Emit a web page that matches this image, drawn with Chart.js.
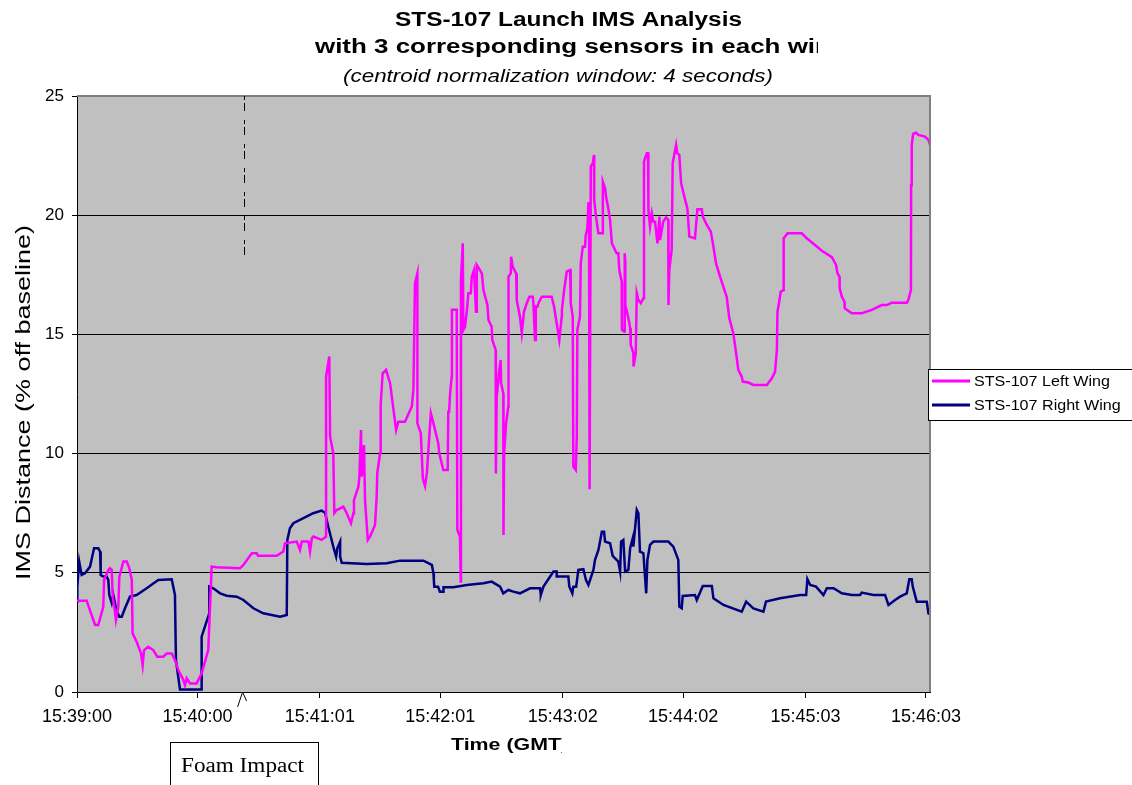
<!DOCTYPE html>
<html>
<head>
<meta charset="utf-8">
<script src="https://cdn.jsdelivr.net/npm/chart.js@4.4.1/dist/chart.umd.min.js"></script>
<style>
  html, body { margin: 0; padding: 0; background: #fff; }
  canvas { display: block; }
</style>
</head>
<body>
<canvas id="myChart" width="1132" height="785"></canvas>
<script>
// seconds after 15:39:00
const tickTimes = [0, 60, 121, 181, 242, 302, 363, 423];
const tickLabels = ["15:39:00", "15:40:00", "15:41:01", "15:42:01", "15:43:02", "15:44:02", "15:45:03", "15:46:03"];
const yTicks = [0, 5, 10, 15, 20, 25];
const impactTime = 83;

const leftT = [0,4.8,9.0,10.6,13.1,13.5,15.6,16.4,17.3,17.8,
  18.9,19.4,20.6,21.1,23.1,24.8,26.1,27.3,27.7,29.7,
  31.9,32.7,33.4,35.5,38.0,40.0,43.0,44.7,47.2,48.8,
  50.5,53.0,53.8,54.7,56.3,59.6,62.1,65.4,67.1,69.6,
  81.2,82.9,87.1,89.5,90.2,99.5,102.8,103.6,109.5,111.1,
  112.0,115.3,116.1,117.0,117.8,121.9,124.1,124.1,125.7,126.1,
  127.7,128.2,129.4,132.7,134.4,136.5,137.7,138.0,140.2,140.7,
  141.5,141.9,143.0,143.5,144.9,146.0,148.5,149.3,149.6,151.0,
  151.3,152.3,154.0,156.0,157.6,159.0,160.1,163.4,166.8,167.6,
  168.4,169.6,169.6,171.3,172.3,173.4,174.3,176.3,177.6,180.0,
  180.5,182.5,184.7,185.0,185.4,185.9,186.7,186.8,189.2,189.5,
  190.8,191.2,191.3,192.2,192.5,193.3,194.2,195.0,196.2,196.7,
  197.8,198.8,199.2,200.8,201.7,202.5,204.5,205.0,206.6,206.9,
  208.6,208.7,209.1,210.4,211.1,211.3,212.4,212.5,212.8,213.8,
  214.9,215.0,216.1,216.3,217.1,218.8,219.1,220.7,221.6,222.7,
  224.1,225.4,227.1,227.4,228.2,228.6,229.4,229.9,231.6,236.5,
  237.7,239.0,240.3,241.5,241.6,242.7,244.0,245.7,246.0,247.0,
  247.3,248.5,249.0,249.3,250.6,251.0,252.0,253.1,253.5,254.3,
  254.8,255.1,255.4,256.0,257.0,257.6,257.7,258.6,259.3,259.8,
  261.8,262.0,263.1,263.6,264.7,265.6,266.5,268.9,269.7,270.2,
  271.4,271.5,272.6,272.9,273.1,273.2,274.2,275.2,275.6,275.9,
  277.2,277.3,278.4,278.9,279.7,280.9,282.2,282.5,283.9,284.5,
  284.7,285.5,286.4,287.2,288.0,289.2,290.2,290.5,292.1,293.5,
  294.6,294.7,295.1,296.3,296.8,298.5,299.1,300.1,301.0,303.0,
  304.1,305.1,307.9,309.1,311.3,311.8,313.8,315.8,317.1,318.4,
  320.4,323.7,325.0,327.0,328.4,329.5,331.2,331.7,334.5,337.0,
  343.7,346.2,347.8,348.7,349.0,350.0,350.6,352.0,352.1,354.0,
  361.1,363.6,367.7,371.1,376.1,378.2,378.9,379.9,380.0,381.1,
  382.4,382.5,386.0,391.0,396.0,401.0,403.5,406.0,413.5,414.3,
  415.5,415.6,415.8,416.0,416.6,418.1,419.2,422.5,424.2,425];
const leftV = [3.83,3.83,2.81,2.81,3.58,4.70,5.12,5.19,5.12,4.00,
  3.37,3.02,3.58,4.84,5.47,5.47,5.19,4.70,2.46,2.11,
  1.62,1.13,1.76,1.90,1.76,1.48,1.48,1.62,1.62,1.34,
  0.92,0.50,0.29,0.57,0.36,0.36,0.78,1.76,5.26,5.23,
  5.19,5.33,5.82,5.82,5.71,5.71,5.89,6.24,6.31,5.96,
  6.31,6.31,5.89,6.45,6.52,6.38,6.52,13.23,14.07,10.71,
  10.01,7.50,7.63,7.77,7.50,7.08,7.50,8.05,8.61,9.03,
  10.99,9.03,10.36,8.05,6.38,6.52,7.01,8.19,9.17,10.01,
  12.04,13.37,13.51,12.95,11.90,10.99,11.34,11.34,11.97,12.67,
  17.14,17.56,11.27,10.85,8.96,8.64,9.17,11.69,11.27,10.43,
  10.01,9.31,9.31,11.76,11.76,12.53,13.23,16.03,16.03,6.80,
  6.51,4.63,17.28,18.82,15.19,15.32,15.95,16.73,16.73,17.42,
  17.70,15.95,17.91,17.70,17.56,16.86,16.23,15.61,15.32,14.77,
  14.35,9.17,12.39,13.51,13.93,12.95,12.53,6.59,10.01,11.27,
  11.97,17.42,17.56,18.26,17.84,17.56,16.44,15.74,15.05,15.95,
  16.31,16.58,16.58,16.31,14.77,16.16,16.16,16.31,16.58,16.58,
  16.16,15.47,14.77,15.74,16.03,16.86,17.63,17.70,16.31,15.74,
  9.45,9.31,10.71,15.19,15.74,17.98,18.68,18.68,19.17,19.45,
  20.50,20.51,8.5,22.04,22.18,22.53,20.64,19.94,19.52,19.24,
  19.24,21.41,21.13,20.78,20.29,19.80,18.82,18.40,18.40,17.70,
  17.21,15.19,15.12,18.40,18.12,16.23,15.89,15.47,15.26,14.56,
  14.21,13.65,14.21,16.73,16.44,16.31,16.52,22.25,22.60,22.60,
  20.22,19.52,20.08,19.73,19.73,18.82,19.94,18.96,19.73,19.91,
  19.80,16.23,17.70,18.54,22.18,22.95,22.60,22.53,21.34,20.64,
  20.29,19.10,19.03,20.25,20.25,19.94,19.59,19.31,18.68,17.98,
  17.42,16.58,15.68,15.05,14.21,13.51,13.23,13.02,12.98,12.88,
  12.88,13.16,13.44,14.35,15.95,16.44,16.79,16.86,19.03,19.24,
  19.24,19.03,18.75,18.51,18.24,17.91,17.56,17.42,16.93,16.58,
  16.37,16.10,15.89,15.89,16.03,16.23,16.23,16.33,16.33,16.47,
  16.86,21.27,22.32,22.95,23.41,23.46,23.37,23.30,23.16,22.95];

const rightT = [0,0.15,1.1,2.3,4.0,6.5,8.5,10.6,11.5,11.8,
  13.1,14.8,15.6,16.1,17.3,18.1,19.8,21.1,22.3,23.9,
  26.4,29.7,34.7,40.5,47.2,48.8,49.3,51.3,62.1,62.1,
  65.9,65.9,67.9,71.3,74.6,79.6,82.9,87.9,92.8,101.2,
  104.5,104.8,106.1,107.8,112.8,117.7,121.9,123.6,125.2,127.7,
  129.1,129.7,131.1,131.1,131.9,144.4,154.3,161.0,172.6,176.8,
  177.6,177.8,178,179.9,180.8,182.4,182.6,187.5,194.2,202.5,
  206.6,210.8,212.4,214.9,217.4,220.7,225.7,230.7,231.1,232.4,
  237.4,239.0,239.0,244.8,245.3,246.8,247.3,248.7,249.8,252.3,
  253.6,254.8,257.3,258.1,259.8,261.5,262.6,263.1,265.6,266.9,
  269.7,270.6,271.1,272.2,273.1,274.7,275.6,276.9,277.2,278.9,
  279.7,280.5,282.2,283.6,284.2,285.5,287.2,294.6,297.1,299.6,
  300.1,301.3,301.8,307.9,308.8,311.8,316.3,317.1,322.1,331.2,
  333.4,337.0,342.0,343.3,350.3,360.3,363.3,363.9,365.3,368.2,
  371.9,373.6,376.9,381.1,386.0,390.2,391.0,396.8,402.6,404.3,
  407.6,410.1,413.4,414.7,415.9,416.4,418.4,423.4,424.2,425];
const rightV = [3.8,4.42,5.47,4.91,4.98,5.26,6.03,6.03,5.89,4.91,
  4.84,4.84,4.70,4.07,3.73,4.07,3.37,3.16,3.16,3.51,
  4.00,4.07,4.35,4.70,4.73,4.07,1.34,0.11,0.11,2.32,
  3.30,4.42,4.35,4.14,4.04,4.00,3.86,3.51,3.30,3.16,
  3.23,6.38,6.87,7.08,7.29,7.50,7.61,7.52,6.93,6.10,
  5.68,6.03,6.31,5.68,5.42,5.37,5.40,5.51,5.51,5.33,
  4.98,4.70,4.42,4.42,4.21,4.21,4.39,4.39,4.49,4.56,
  4.63,4.42,4.14,4.28,4.21,4.14,4.35,4.35,4.07,4.42,
  5.05,5.05,4.84,4.84,4.42,4.14,4.42,4.42,5.12,5.15,
  4.70,4.49,5.12,5.54,5.96,6.72,6.72,6.31,6.24,5.71,
  5.47,5.05,6.31,6.38,5.05,5.12,6.03,6.45,6.10,7.64,
  7.50,5.89,5.82,4.14,5.54,6.17,6.31,6.31,6.10,5.54,
  3.58,3.51,4.03,4.07,3.86,4.45,4.45,3.93,3.65,3.37,
  3.79,3.51,3.37,3.79,3.93,4.07,4.07,4.74,4.49,4.42,
  4.07,4.35,4.35,4.14,4.07,4.07,4.17,4.07,4.07,3.65,
  3.86,4.00,4.14,4.73,4.73,4.42,3.79,3.79,3.30,3.27];

const SANS = "'Liberation Sans', Arial, sans-serif";

// draw text squeezed/stretched to a given width
function fitText(ctx, text, x, y, w, measureText) {
  const m = ctx.measureText(measureText || text).width;
  ctx.save();
  ctx.translate(x, y);
  ctx.scale(w / m, 1);
  ctx.fillText(text, 0, 0);
  ctx.restore();
}

const decor = {
  id: "decor",
  beforeDraw(chart) {
    const { ctx, chartArea: a } = chart;
    ctx.save();
    ctx.fillStyle = "#fff";
    ctx.fillRect(0, 0, chart.width, chart.height);
    ctx.fillStyle = "#c0c0c0";
    ctx.fillRect(a.left, a.top, a.right - a.left, a.bottom - a.top);
    ctx.restore();
  },
  afterDraw(chart) {
    const { ctx, chartArea: a, scales } = chart;
    ctx.save();
    // plot frame, top and right
    ctx.strokeStyle = "#808080";
    ctx.lineWidth = 2;
    ctx.beginPath();
    ctx.moveTo(a.left, a.top);
    ctx.lineTo(a.right, a.top);
    ctx.lineTo(a.right, a.bottom);
    ctx.stroke();

    // foam impact marker
    const xi = scales.x.getPixelForValue(impactTime);
    ctx.strokeStyle = "#000";
    ctx.lineWidth = 1;
    ctx.setLineDash([4, 3, 8, 9]);
    ctx.beginPath();
    ctx.moveTo(Math.round(xi) + 0.5, a.top);
    ctx.lineTo(Math.round(xi) + 0.5, scales.y.getPixelForValue(18.3));
    ctx.stroke();
    ctx.setLineDash([]);
    ctx.beginPath();
    ctx.moveTo(xi - 6, a.bottom + 15);
    ctx.lineTo(xi - 1, a.bottom);
    ctx.lineTo(xi + 3, a.bottom + 9);
    ctx.stroke();

    // titles
    ctx.fillStyle = "#000";
    ctx.textBaseline = "alphabetic";
    ctx.font = "bold 20px " + SANS;
    fitText(ctx, "STS-107 Launch IMS Analysis", 395, 26, 347);
    ctx.save();
    ctx.beginPath();
    ctx.rect(0, 30, 818, 30);
    ctx.clip();
    // second line runs past the chart box and is cut off
    fitText(ctx, "with 3 corresponding sensors in each wing", 315, 53, 500, "with 3 corresponding sensors in each wi");
    ctx.restore();
    ctx.font = "italic 18px " + SANS;
    fitText(ctx, "(centroid normalization window: 4 seconds)", 343, 82, 430);

    // axis titles
    ctx.font = "21px " + SANS;
    ctx.save();
    ctx.translate(30, 580);
    ctx.rotate(-Math.PI / 2);
    fitText(ctx, "IMS Distance (% off baseline)", 0, 0, 355);
    ctx.restore();
    ctx.save();
    ctx.beginPath();
    ctx.rect(0, 725, 562, 30);
    ctx.clip();
    ctx.font = "bold 16px " + SANS;
    fitText(ctx, "Time (GMT)", 451, 750, 110, "Time (GMT");
    ctx.restore();

    // legend
    ctx.fillStyle = "#fff";
    ctx.fillRect(928, 369, 210, 52);
    ctx.strokeStyle = "#000";
    ctx.lineWidth = 1;
    ctx.strokeRect(928.5, 369.5, 210, 51);
    ctx.font = "14px " + SANS;
    ctx.textBaseline = "middle";
    const lk = 136 / ctx.measureText(chart.data.datasets[0].label).width;
    chart.data.datasets.forEach((ds, i) => {
      const y = 381 + i * 24;
      ctx.strokeStyle = ds.borderColor;
      ctx.lineWidth = 3;
      ctx.beginPath();
      ctx.moveTo(932, y);
      ctx.lineTo(970, y);
      ctx.stroke();
      ctx.fillStyle = "#000";
      fitText(ctx, ds.label, 974, y + 1, ctx.measureText(ds.label).width * lk);
    });

    // foam impact box
    ctx.fillStyle = "#fff";
    ctx.fillRect(170, 742, 148, 50);
    ctx.strokeStyle = "#000";
    ctx.lineWidth = 1;
    ctx.strokeRect(170.5, 742.5, 148, 60);
    ctx.fillStyle = "#000";
    ctx.textBaseline = "alphabetic";
    ctx.font = "20px 'Liberation Serif', 'Times New Roman', serif";
    fitText(ctx, "Foam Impact", 181, 772, 123);
    ctx.restore();
  },
};

const ctx = document.getElementById("myChart").getContext("2d");
new Chart(ctx, {
  type: "line",
  data: {
    datasets: [
      {
        label: "STS-107 Left Wing",
        data: leftT.map((t, i) => ({ x: t, y: leftV[i] })),
        borderColor: "#ff00ff",
        borderWidth: 2.5,
        pointRadius: 0,
        tension: 0,
      },
      {
        label: "STS-107 Right Wing",
        data: rightT.map((t, i) => ({ x: t, y: rightV[i] })),
        borderColor: "#000080",
        borderWidth: 2.5,
        pointRadius: 0,
        tension: 0,
      },
    ],
  },
  options: {
    responsive: false,
    animation: false,
    devicePixelRatio: 1,
    layout: { padding: { top: 96, right: 202, left: 0, bottom: 0 } },
    plugins: { legend: { display: false }, tooltip: { enabled: false } },
    scales: {
      x: {
        type: "linear",
        min: 0,
        max: 425,
        afterBuildTicks: (s) => { s.ticks = tickTimes.map((v) => ({ value: v })); },
        afterFit: (s) => { s.height = 93; },
        ticks: {
          callback: (v) => tickLabels[tickTimes.indexOf(v)],
          color: "#000",
          font: { family: SANS, size: 18 },
          maxRotation: 0,
          autoSkip: false,
          padding: 8,
        },
        grid: { drawOnChartArea: false, drawTicks: true, tickLength: 6, color: "#000" },
        border: { color: "#000", width: 1 },
      },
      y: {
        min: 0,
        max: 25,
        afterBuildTicks: (s) => { s.ticks = yTicks.map((v) => ({ value: v })); },
        afterFit: (s) => { s.width = 77; },
        ticks: {
          color: "#000",
          font: { family: SANS, size: 17 },
          padding: 8,
        },
        grid: { color: "#000", lineWidth: 1, tickLength: 5 },
        border: { color: "#000", width: 1 },
      },
    },
  },
  plugins: [decor],
});
</script>
</body>
</html>
